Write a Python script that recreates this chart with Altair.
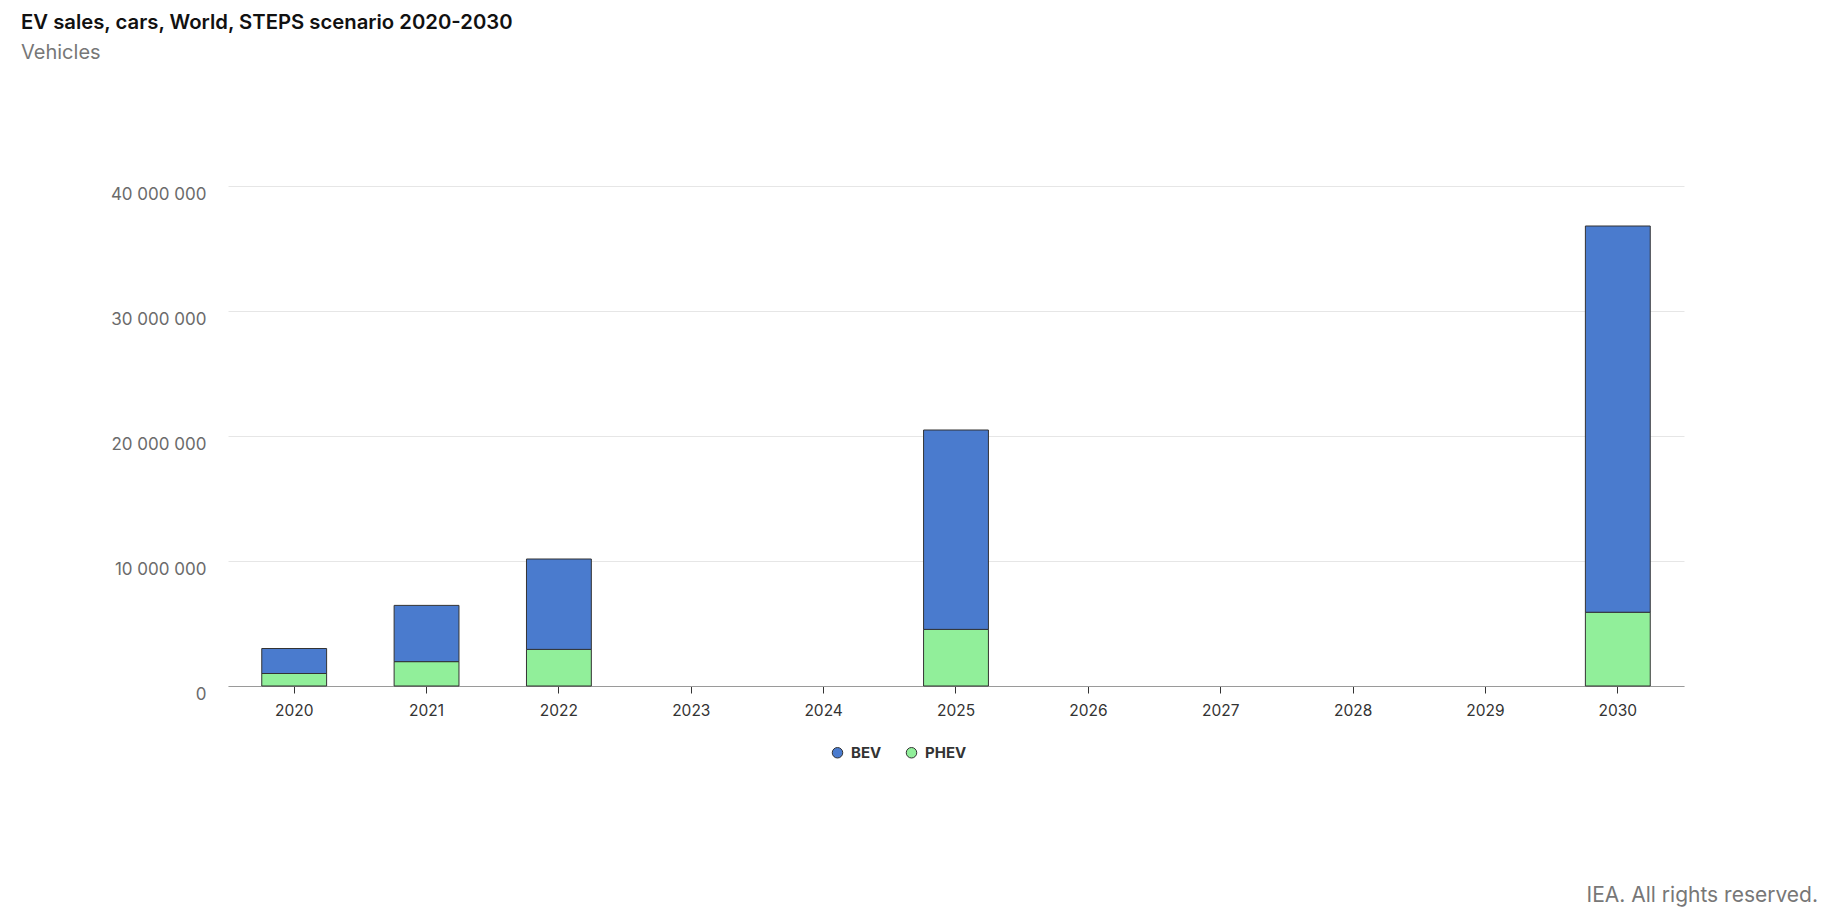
import altair as alt
import pandas as pd

all_years = ["2020", "2021", "2022", "2023", "2024", "2025", "2026", "2027", "2028", "2029", "2030"]
data_years = ["2020", "2021", "2022", "2025", "2030"]
bev = [2000000, 4500000, 7230000, 15950000, 30900000]
phev = [1000000, 1950000, 2930000, 4530000, 5900000]
series = ["BEV", "PHEV"]
colors = ["#4a7bce", "#91ef9a"]

rows = []
for y, b, p in zip(data_years, bev, phev):
    rows.append({"year": y, "type": "PHEV", "value": p, "ord": 0})
    rows.append({"year": y, "type": "BEV", "value": b, "ord": 1})
df = pd.DataFrame(rows)

FONT = "Inter"

bars = alt.Chart(df).mark_bar(stroke="#333333", strokeWidth=1).encode(
    x=alt.X("year:N", scale=alt.Scale(domain=all_years, paddingInner=0.51, paddingOuter=0.255),
            axis=alt.Axis(title=None, labelAngle=0, labelColor="#333333", labelFontSize=15.5,
                          labelFont=FONT, domainColor="#9a9a9a", tickColor="#333333",
                          tickSize=7, labelPadding=10, grid=False)),
    y=alt.Y("value:Q", stack="zero", scale=alt.Scale(domain=[0, 40000000], nice=False),
            axis=alt.Axis(title=None, values=[0, 10000000, 20000000, 30000000, 40000000],
                          labelExpr="replace(replace(format(datum.value, ','), ',', ' '), ',', ' ')",
                          labelColor="#6b6b6b", labelFontSize=17, labelFont=FONT,
                          labelPadding=22, labelOffset=8, ticks=False, domain=False,
                          gridColor="#e6e6e6", gridWidth=1)),
    color=alt.Color("type:N", scale=alt.Scale(domain=series, range=colors),
                    legend=alt.Legend(title=None, orient="none", direction="horizontal",
                                      legendX=602, legendY=559, symbolType="circle",
                                      symbolSize=110, symbolStrokeColor="#333333",
                                      symbolStrokeWidth=1, labelFont=FONT, labelFontSize=15,
                                      labelFontWeight="bold", labelColor="#333333",
                                      columnPadding=22, labelOffset=6)),
    order=alt.Order("ord:Q", sort="ascending"),
)

footer_df = pd.DataFrame({"t": ["IEA. All rights reserved."]})
footer = alt.Chart(footer_df).mark_text(align="right", baseline="middle", fontSize=21,
                                        font=FONT, color="#777777").encode(
    text="t:N", x=alt.value(1590), y=alt.value(710))

chart = alt.layer(bars, footer).properties(
    width=1456, height=500,
    autosize=alt.AutoSizeParams(type="none"),
    padding={"left": 220, "top": 178, "right": 138, "bottom": 230},
    title=alt.TitleParams(text="EV sales, cars, World, STEPS scenario 2020-2030",
                          subtitle="Vehicles", anchor="start", frame="group", dx=-207,
                          offset=122, font=FONT, fontSize=20.3, fontWeight=600, color="#111111",
                          subtitleFont=FONT, subtitleFontSize=20, subtitleColor="#777777",
                          subtitlePadding=10),
).configure_view(stroke=None)

chart.save("out.html", embed_options={"renderer": "svg", "actions": False})
